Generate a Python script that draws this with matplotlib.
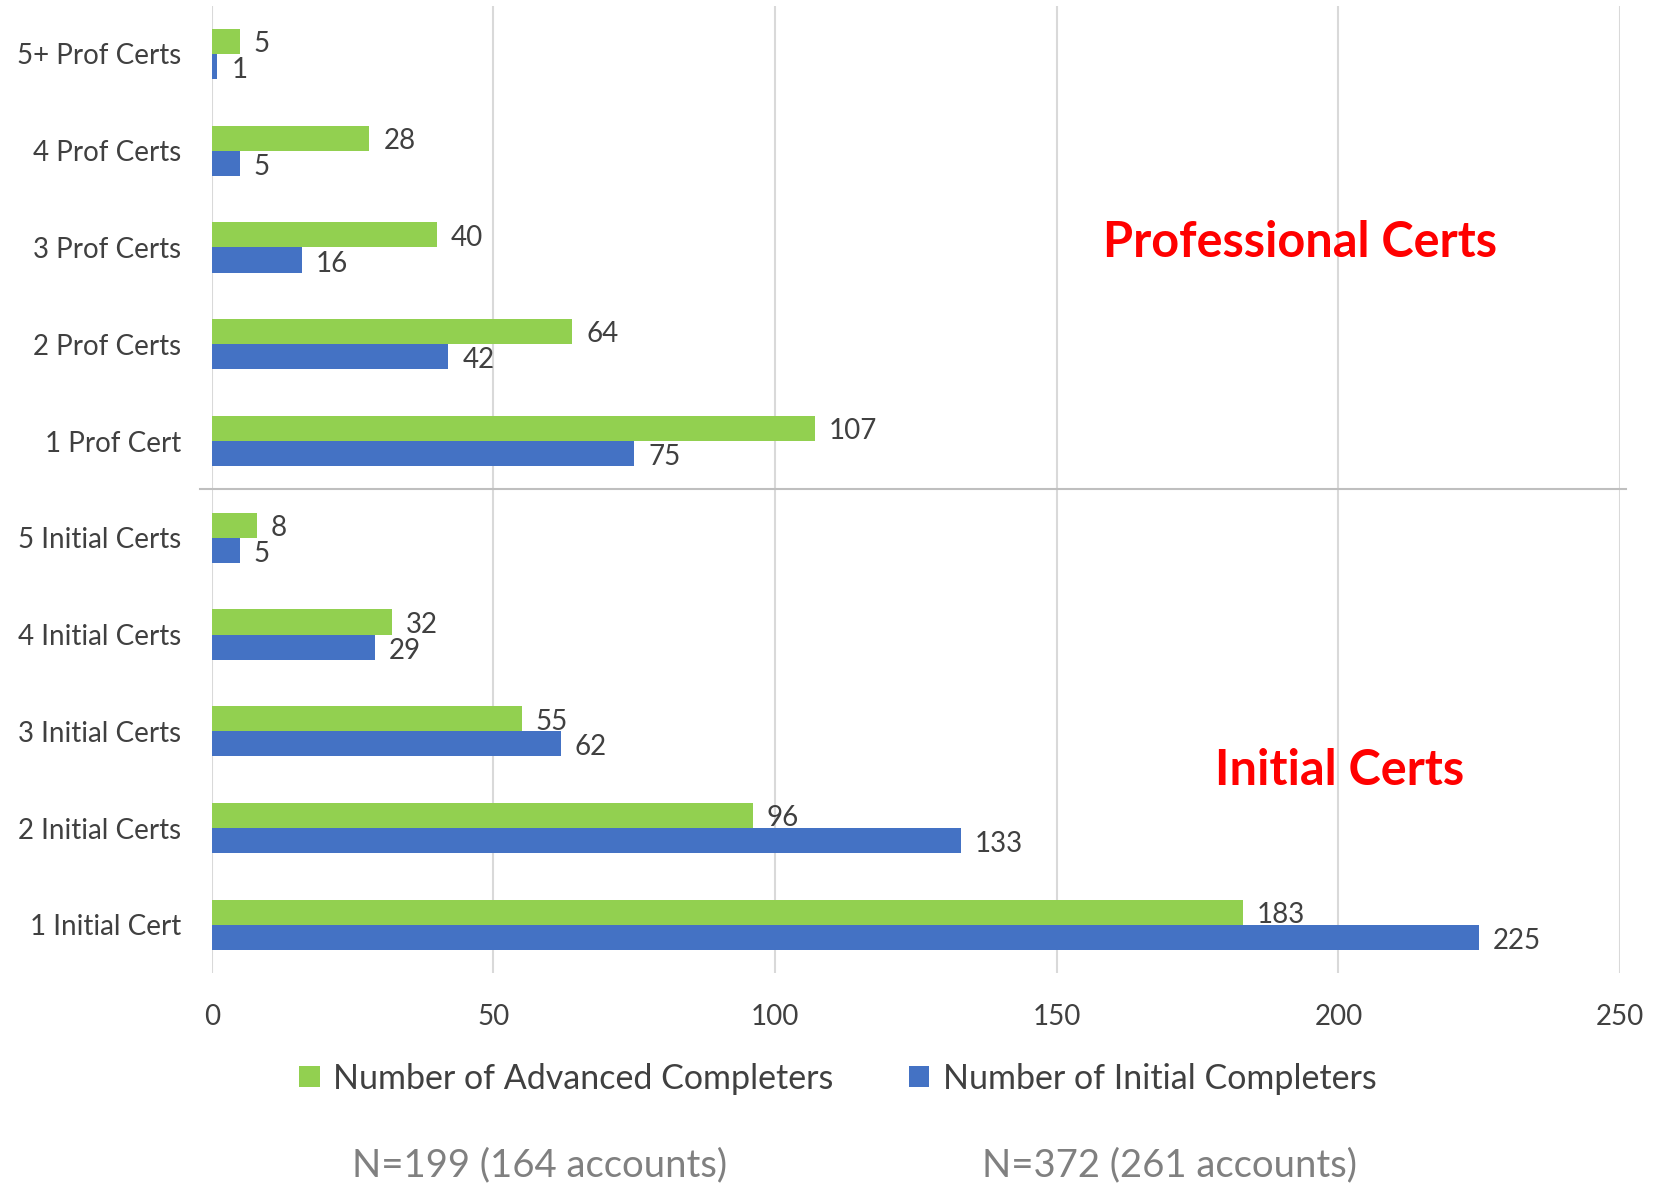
import matplotlib.pyplot as plt

plt.rcParams['font.family'] = ['Lato', 'DejaVu Sans']

categories = ['1 Initial Cert', '2 Initial Certs', '3 Initial Certs', '4 Initial Certs', '5 Initial Certs',
              '1 Prof Cert', '2 Prof Certs', '3 Prof Certs', '4 Prof Certs', '5+ Prof Certs']
advanced = [183, 96, 55, 32, 8, 107, 64, 40, 28, 5]
initial = [225, 133, 62, 29, 5, 75, 42, 16, 5, 1]
x_ticks = [0, 50, 100, 150, 200, 250]

GREEN = '#92D050'
BLUE = '#4472C4'
TXT = '#404040'

fig = plt.figure(figsize=(16.59, 11.84), dpi=100)
ax = fig.add_axes([0.1276, 0.178, 0.849, 0.8173])

h = 0.26
ys = list(range(len(categories)))
bars_g = ax.barh([y + h / 2 for y in ys], advanced, height=h, color=GREEN,
                 label='Number of Advanced Completers', zorder=3)
bars_b = ax.barh([y - h / 2 for y in ys], initial, height=h, color=BLUE,
                 label='Number of Initial Completers', zorder=3)

# value labels
for bar in bars_g:
    w = bar.get_width()
    ax.annotate(str(int(w)), (w, bar.get_y() + bar.get_height() / 2), xytext=(10, -2),
                textcoords='offset points', ha='left', va='center', fontsize=20, color=TXT)
for bar in bars_b:
    w = bar.get_width()
    ax.annotate(str(int(w)), (w, bar.get_y() + bar.get_height() / 2), xytext=(10, -2.5),
                textcoords='offset points', ha='left', va='center', fontsize=20, color=TXT)

ax.set_xlim(0, 250)
ax.set_ylim(-0.5, len(categories) - 0.5)
ax.set_xticks(x_ticks)
ax.set_yticks(ys)
ax.set_yticklabels(categories)
ax.tick_params(axis='both', length=0, labelsize=20, labelcolor=TXT)
ax.tick_params(axis='x', pad=22)
ax.tick_params(axis='y', pad=22)
ax.grid(axis='x', color='#D9D9D9', linewidth=1.5, zorder=0)
for s in ax.spines.values():
    s.set_visible(False)

# separator between the two groups
ax.plot([-0.008, 1.004], [0.5, 0.5], transform=ax.transAxes, color='#BFBFBF',
        linewidth=1.5, clip_on=False, zorder=4)

ax.text(0.773, 0.755, 'Professional Certs', transform=ax.transAxes, ha='center', va='center',
        fontsize=35, fontweight='bold', color='#FF0000')
ax.text(0.801, 0.21, 'Initial Certs', transform=ax.transAxes, ha='center', va='center',
        fontsize=35, fontweight='bold', color='#FF0000')

fig.legend(loc='center', bbox_to_anchor=(0.505, 0.089), ncol=2, frameon=False,
           fontsize=24.5, labelcolor=TXT, handlelength=0.6, handleheight=0.6,
           columnspacing=2.2, handletextpad=0.4)

fig.text(0.325, 0.016, 'N=199 (164 accounts)', ha='center', va='center', fontsize=27.5, color='#808080')
fig.text(0.705, 0.016, 'N=372 (261 accounts)', ha='center', va='center', fontsize=27.5, color='#808080')

fig.savefig('out.png', dpi=100)
